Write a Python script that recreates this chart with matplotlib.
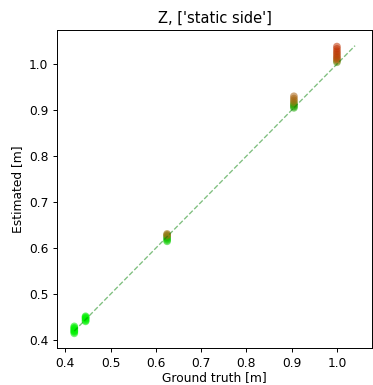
import numpy as np
import matplotlib
matplotlib.use("Agg")
import matplotlib.pyplot as plt
from matplotlib.colors import LinearSegmentedColormap

# ground truth distances and estimates per measurement
ground_truth = [0.42] * 7 + [0.445] * 6 + [0.625] * 7 + [0.905] * 8 + [1.0] * 10
estimated = [0.415, 0.418, 0.42, 0.422, 0.425, 0.427, 0.43,
             0.441, 0.443, 0.446, 0.448, 0.45, 0.452,
             0.615, 0.618, 0.621, 0.624, 0.627, 0.629, 0.631,
             0.905, 0.908, 0.911, 0.914, 0.917, 0.921, 0.925, 0.93,
             1.004, 1.007, 1.01, 1.013, 1.016, 1.02, 1.024, 1.028, 1.033, 1.038]
# colour score per measurement (0 = good, 1 = bad)
score = [0.0] * 13 + [0.12, 0.12, 0.15, 0.2, 0.45, 0.55, 0.6,
                      0.25, 0.25, 0.3, 0.35, 0.5, 0.6, 0.65, 0.7,
                      0.4, 0.55, 0.7, 0.8, 0.85, 0.9, 0.9, 0.95, 1.0, 1.0]

cmap = LinearSegmentedColormap.from_list(
    "err", ["#00f000", "#1aa800", "#8a8010", "#b05a10", "#c03000"])

dpi = 88
fig = plt.figure(figsize=(373 / dpi, 385 / dpi), dpi=dpi)
ax = fig.add_axes([0.153, 0.096, 0.845, 0.826])
ax.plot([0.42, 1.04], [0.42, 1.04], "--", color="green", alpha=0.5, linewidth=1.1)
ax.scatter(ground_truth, estimated, c=score, cmap=cmap, vmin=0, vmax=1,
           s=40, alpha=0.55, edgecolors="none")
ax.set_xlim(0.382, 1.078)
ax.set_ylim(0.383, 1.074)
ax.set_xticks([0.4, 0.5, 0.6, 0.7, 0.8, 0.9, 1.0])
ax.set_yticks([0.4, 0.5, 0.6, 0.7, 0.8, 0.9, 1.0])
ax.set_xlabel("Ground truth [m]", labelpad=1.5)
ax.set_ylabel("Estimated [m]")
ax.set_title("Z, ['static side']")
fig.savefig("out.png", dpi=dpi)
